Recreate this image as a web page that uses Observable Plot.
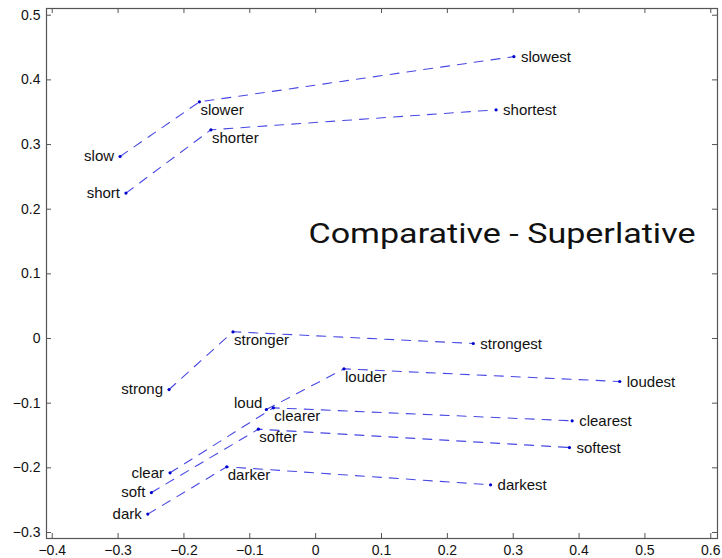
<!DOCTYPE html>
<html>
<head>
<meta charset="utf-8">
<script src="https://cdn.jsdelivr.net/npm/d3@7"></script>
<script src="https://cdn.jsdelivr.net/npm/@observablehq/plot@0.6"></script>
<style>
  html, body { margin: 0; padding: 0; background: #fff; }
  #chart { width: 722px; height: 558px; }
</style>
</head>
<body>
<div id="chart"></div>
<script>
// ---- data ----
const baseWords   = ["slow", "short", "strong", "loud", "clear", "soft", "dark"];
const baseX       = [-0.297, -0.288, -0.2226, -0.0748, -0.2211, -0.2494, -0.2549];
const baseY       = [0.2815, 0.2249, -0.0789, -0.1098, -0.2077, -0.2382, -0.2716];

const comparatives = ["slower", "shorter", "stronger", "louder", "clearer", "softer", "darker"];
const compX        = [-0.1765, -0.159, -0.1255, 0.043, -0.0642, -0.087, -0.135];
const compY        = [0.366, 0.3228, 0.0104, -0.0469, -0.1072, -0.1402, -0.1984];

const superlatives = ["slowest", "shortest", "strongest", "loudest", "clearest", "softest", "darkest"];
const supX         = [0.301, 0.274, 0.2393, 0.4618, 0.3895, 0.3854, 0.2656];
const supY         = [0.436, 0.3537, -0.0077, -0.0665, -0.1273, -0.1686, -0.2263];

const xTicks = [-0.4, -0.3, -0.2, -0.1, 0, 0.1, 0.2, 0.3, 0.4, 0.5, 0.6];
const yTicks = [-0.3, -0.2, -0.1, 0, 0.1, 0.2, 0.3, 0.4, 0.5];
const xDomain = [-0.4087, 0.6102];
const yDomain = [-0.3093, 0.5104];

const titleText = "Comparative - Superlative";

// ---- tables built from arrays ----
const baseRows = baseWords.map((w, i) => ({word: w, x: baseX[i], y: baseY[i], group: i, stage: 0}));
const compRows = comparatives.map((w, i) => ({word: w, x: compX[i], y: compY[i], group: i, stage: 1}));
const supRows  = superlatives.map((w, i) => ({word: w, x: supX[i], y: supY[i], group: i, stage: 2}));
const allRows = [...baseRows, ...compRows, ...supRows].sort((a, b) => a.group - b.group || a.stage - b.stage);

// ---- layout ----
const W = 722, H = 558;
const mTop = 8, mBottom = 20, mLeft = 46, mRight = 5;
const frameH = H - mTop - mBottom;
const frameW = W - mLeft - mRight;
const tickLen = 5;
const axisColor = "#555";
const fmt = d => d === 0 ? "0" : d3.format(".1f")(d);

const chart = Plot.plot({
  width: W,
  height: H,
  marginTop: mTop,
  marginBottom: mBottom,
  marginLeft: mLeft,
  marginRight: mRight,
  style: {fontFamily: "'Liberation Sans', Arial, Helvetica, sans-serif", background: "#fff", color: "#111"},
  x: {domain: xDomain},
  y: {domain: yDomain},
  marks: [
    // inward ticks on all four sides
    Plot.tickX(xTicks, {x: d => d, insetTop: frameH - tickLen, stroke: axisColor}),
    Plot.tickX(xTicks, {x: d => d, insetBottom: frameH - tickLen, stroke: axisColor}),
    Plot.tickY(yTicks, {y: d => d, insetRight: frameW - tickLen, stroke: axisColor}),
    Plot.tickY(yTicks, {y: d => d, insetLeft: frameW - tickLen, stroke: axisColor}),
    Plot.axisX({ticks: xTicks, tickSize: 0, tickPadding: 7, tickFormat: fmt, fontSize: 14, label: null, color: "#111"}),
    Plot.axisY({ticks: yTicks, tickSize: 0, tickPadding: 6, tickFormat: fmt, fontSize: 14, label: null, color: "#111"}),
    Plot.frame({stroke: axisColor, strokeWidth: 1.2}),
    Plot.line(allRows, {x: "x", y: "y", z: "group", stroke: "#4848e4", strokeWidth: 1.1, strokeDasharray: "9,8", curve: "linear"}),
    Plot.dot(allRows, {x: "x", y: "y", r: 1.6, fill: "#0000cc", stroke: "none"}),
    Plot.text(baseRows.filter(d => d.word !== "loud"), {x: "x", y: "y", text: "word", textAnchor: "end", dx: -6, fontSize: 15, fill: "#111"}),
    Plot.text(baseRows.filter(d => d.word === "loud"), {x: "x", y: "y", text: "word", textAnchor: "end", dx: -4, dy: -6, fontSize: 15, fill: "#111"}),
    Plot.text(compRows, {x: "x", y: "y", text: "word", textAnchor: "start", dx: 1, dy: 8.5, fontSize: 15, fill: "#111"}),
    Plot.text(supRows, {x: "x", y: "y", text: "word", textAnchor: "start", dx: 7, dy: 0.5, fontSize: 15, fill: "#111"}),
    Plot.text([titleText], {className: "chart-title", frameAnchor: "right", dx: -22, dy: -39, text: d => d, textAnchor: "end", fontSize: 28, fontFamily: "Roboto, sans-serif", fill: "#111"})
  ]
});
// the reference title is horizontally stretched; fit it to its measured width
d3.select(chart).selectAll(".chart-title text")
  .attr("textLength", 387)
  .attr("lengthAdjust", "spacingAndGlyphs");
document.getElementById("chart").appendChild(chart);
</script>
</body>
</html>
